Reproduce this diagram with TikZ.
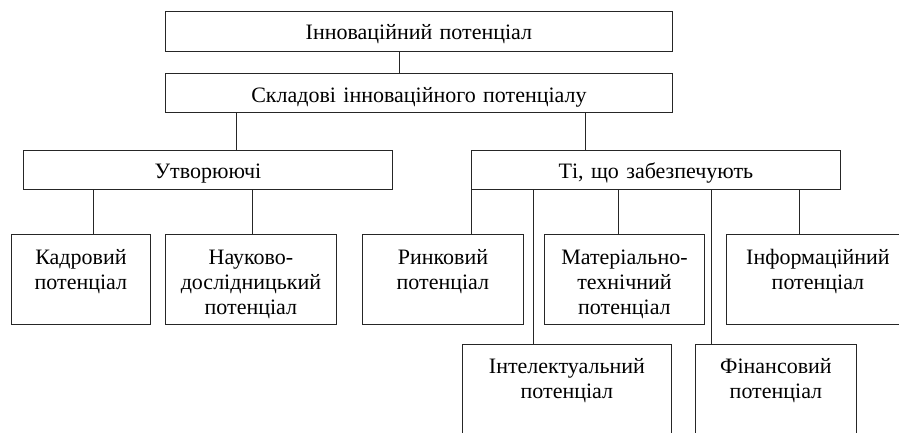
\documentclass[tikz,border=0pt]{standalone}
\usepackage{fontspec}
\setmainfont{Liberation Serif}
\usepackage{tikz}

\begin{document}
\begin{tikzpicture}[
  x=1pt,y=-1pt,
  font=\fontsize{22}{25}\selectfont,
  bx/.style={draw=black!85,line width=0.9pt,inner sep=0pt,align=center,anchor=north west},
  hd/.style={bx,text height=28pt,text depth=11pt},
  pt/.style={bx,text height=30pt,text depth=60pt},
  lo/.style={bx,text height=29pt,text depth=70pt},
  ln/.style={black!85,line width=0.9pt}
]
\useasboundingbox (0,0) rectangle (899,432);
% top levels
\node[hd,text width=507pt,text depth=12pt] (inn) at (165,11) {Інноваційний потенціал};
\node[hd,text width=507pt,text height=29pt,text depth=10pt] (skl) at (165,73) {Складові інноваційного потенціалу};
% groups
\node[hd,text width=369pt] (utv) at (23,150) {Утворюючі};
\node[hd,text width=369pt] (ti) at (471,150) {Ті, що забезпечують};
% potentials, upper row
\node[pt,text width=139pt] (kadr) at (11,234) {Кадровий\\потенціал};
\node[pt,text width=171pt] (nauk) at (165,234) {Науково-\\дослідницький\\потенціал};
\node[pt,text width=161pt] (rynk) at (362,234) {Ринковий\\потенціал};
\node[pt,text width=160pt] (mat) at (544,234) {Матеріально-\\технічний\\потенціал};
\node[pt,text width=183pt] (inf) at (726,234) {Інформаційний\\потенціал};
% potentials, lower row
\node[lo,text width=209pt] (intel) at (462,344) {Інтелектуальний\\потенціал};
\node[lo,text width=161pt] (fin) at (695,344) {Фінансовий\\потенціал};
% connectors
\draw[ln] (inn.south -| 399,0) -- (skl.north -| 399,0);
\draw[ln] (skl.south -| 236,0) -- (utv.north -| 236,0);
\draw[ln] (skl.south -| 585,0) -- (ti.north -| 585,0);
\draw[ln] (utv.south -| 93,0) -- (kadr.north -| 93,0);
\draw[ln] (utv.south -| 252,0) -- (nauk.north -| 252,0);
\draw[ln] (ti.south -| 471,0) -- (rynk.north -| 471,0);
\draw[ln] (ti.south -| 533,0) -- (intel.north -| 533,0);
\draw[ln] (ti.south -| 618,0) -- (mat.north -| 618,0);
\draw[ln] (ti.south -| 711,0) -- (fin.north -| 711,0);
\draw[ln] (ti.south -| 799,0) -- (inf.north -| 799,0);
\end{tikzpicture}
\end{document}
